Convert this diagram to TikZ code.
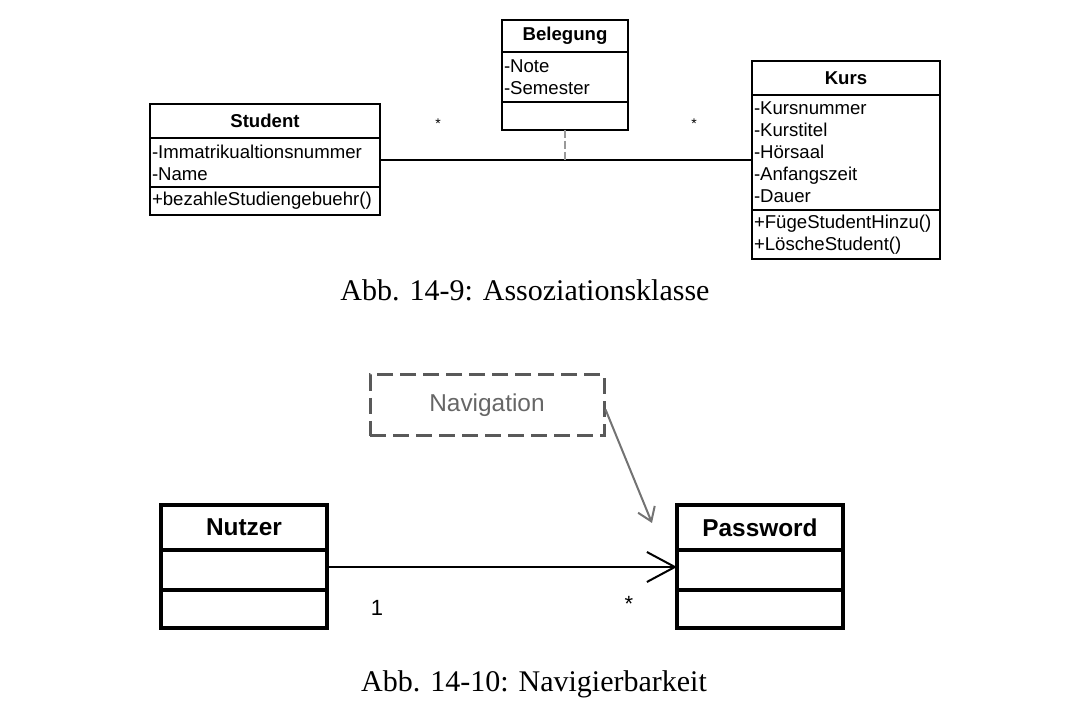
\documentclass[tikz,border=0pt]{standalone}
\usepackage{fontspec}
\setmainfont{Liberation Serif}
\setsansfont{Liberation Sans}
\usetikzlibrary{positioning,arrows.meta}

\begin{document}
\begin{tikzpicture}[
		x=0.5pt, y=-0.5pt,
		klasse/.style={draw, line width=1pt, outer sep=0pt, inner sep=0pt, font=\sffamily\fontsize{9.3}{11}\selectfont},
		kopf/.style={klasse, font=\sffamily\bfseries\fontsize{9.3}{11}\selectfont},
		fach/.style={klasse, align=left, inner xsep=1pt},
		grossklasse/.style={draw, line width=1.7pt, outer sep=0pt, inner sep=0pt, minimum width=83pt, font=\sffamily\bfseries\fontsize{12.2}{14}\selectfont},
		mult/.style={font=\sffamily\fontsize{7}{8}\selectfont},
		multgross/.style={font=\sffamily\fontsize{11}{13}\selectfont},
		titel/.style={font=\fontsize{15}{18}\selectfont},
	]
	\path[use as bounding box] (0,0) rectangle (1073,711);
	\node[kopf, anchor=north west, minimum width=115pt, minimum height=17pt] (stud-kopf) at (150,104) {Student};
	\node[fach, below=0pt of stud-kopf, text width=113pt, minimum height=24.5pt] (stud-attr) {-Immatrikualtionsnummer\\-Name};
	\node[fach, below=0pt of stud-attr, text width=113pt, minimum height=14pt] (stud-op) {+bezahleStudiengebuehr()};
	\node[kopf, anchor=north west, minimum width=63pt, minimum height=16pt] (beleg-kopf) at (502,20) {Belegung};
	\node[fach, below=0pt of beleg-kopf, text width=61pt, minimum height=25pt] (beleg-attr) {-Note\\-Semester};
	\node[fach, below=0pt of beleg-attr, text width=61pt, minimum height=14pt] (beleg-op) {};
	\node[kopf, anchor=north west, minimum width=94pt, minimum height=17pt] (kurs-kopf) at (752,61) {Kurs};
	\node[fach, below=0pt of kurs-kopf, text width=92pt, minimum height=57.5pt] (kurs-attr) {-Kursnummer\\-Kurstitel\\-Hörsaal\\-Anfangszeit\\-Dauer};
	\node[fach, below=0pt of kurs-attr, text width=92pt, minimum height=24.5pt] (kurs-op) {+FügeStudentHinzu()\\+LöscheStudent()};
	\draw[line width=0.6pt] ([yshift=1.25pt]stud-attr.east) -- ([yshift=1.25pt]stud-attr.east -| kurs-attr.west);
	\draw[black!40, line width=0.8pt, dash pattern=on 4pt off 1.5pt] (beleg-op.south) -- ([yshift=1.25pt]beleg-op.south |- stud-attr.east);
	\node[mult] (stern-stud) at (438,124) {*};
	\node[mult] (stern-kurs) at (694,124) {*};
	\node[titel] (abb-assoz) at (525,290) {Abb. 14-9: Assoziationsklasse};

	\node[draw=black!65, line width=1.5pt, dash pattern=on 8pt off 3.5pt, minimum width=117pt, minimum height=30.5pt, text=black!60, font=\sffamily\fontsize{12.2}{14}\selectfont] (nav) at (487,405.5) {Navigation};
	\node[grossklasse, anchor=north west, minimum height=22.5pt] (nutz-kopf) at (161,505) {Nutzer};
	\node[grossklasse, below=0pt of nutz-kopf, minimum height=20pt] (nutz-attr) {};
	\node[grossklasse, below=0pt of nutz-attr, minimum height=19pt] (nutz-op) {};
	\node[grossklasse, anchor=north west, minimum height=22.5pt] (pass-kopf) at (677,505) {Password};
	\node[grossklasse, below=0pt of pass-kopf, minimum height=20pt] (pass-attr) {};
	\node[grossklasse, below=0pt of pass-attr, minimum height=19pt] (pass-op) {};
	\coordinate (navziel) at (652,523);
	\draw[black!55, line width=1pt, -{Straight Barb[length=6.5pt, width=9pt]}] ([yshift=-2pt]nav.east) -- (navziel);
	\draw[line width=0.6pt, -{Straight Barb[length=14pt, width=15pt, line width=1pt]}] ([yshift=1.5pt]nutz-attr.east) -- ([yshift=1.5pt]pass-attr.west);
	\node[multgross] (eins) at (377,608) {1};
	\node[multgross] (stern-pass) at (629,604) {*};
	\node[titel] (abb-navi) at (534,684) {Abb. 14-10: Navigierbarkeit};
\end{tikzpicture}
\end{document}
